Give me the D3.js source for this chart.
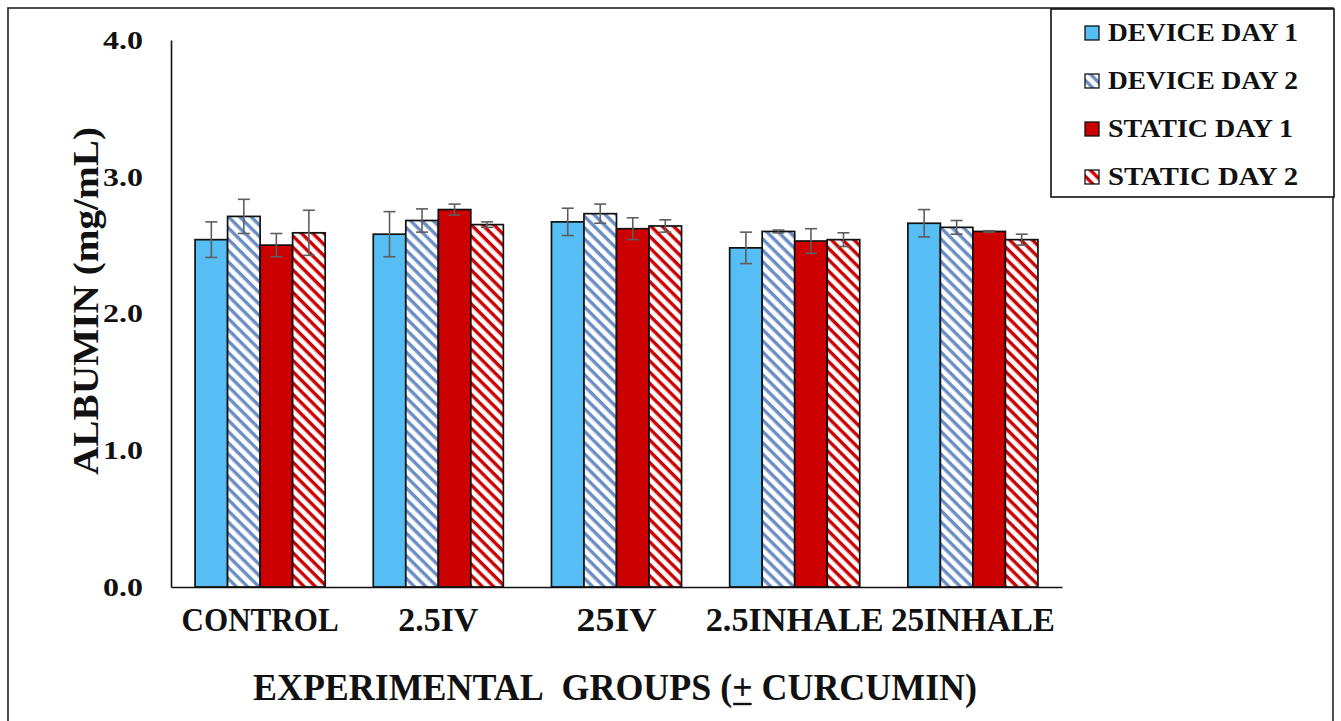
<!DOCTYPE html>
<html><head><meta charset="utf-8">
<script src="https://cdn.jsdelivr.net/npm/d3@7"></script>
<style>
html,body{margin:0;padding:0;background:#fff;}
svg{display:block;}
text{font-family:"Liberation Serif","Times New Roman",serif !important;font-weight:bold;fill:#111;}
</style></head>
<body>
<svg id="chart" width="1341" height="721"></svg>
<script>
const categories = ["CONTROL", "2.5IV", "25IV", "2.5INHALE", "25INHALE"];
const seriesNames = ["DEVICE DAY 1", "DEVICE DAY 2", "STATIC DAY 1", "STATIC DAY 2"];
const deviceDay1 = [2.54, 2.58, 2.67, 2.48, 2.66];
const deviceDay1Err = [0.13, 0.165, 0.10, 0.115, 0.10];
const deviceDay2 = [2.71, 2.68, 2.73, 2.60, 2.63];
const deviceDay2Err = [0.125, 0.085, 0.07, 0.01, 0.05];
const staticDay1 = [2.50, 2.76, 2.62, 2.53, 2.60];
const staticDay1Err = [0.085, 0.04, 0.08, 0.09, 0.005];
const staticDay2 = [2.59, 2.65, 2.64, 2.54, 2.54];
const staticDay2Err = [0.165, 0.02, 0.045, 0.05, 0.04];
const yTicks = [0, 1, 2, 3, 4];
const yTickLabels = ["0.0", "1.0", "2.0", "3.0", "4.0"];
const xTitle = "EXPERIMENTAL\u00A0 GROUPS (+ CURCUMIN)";
const yTitle = "ALBUMIN (mg/mL)";

const seriesValues = [deviceDay1, deviceDay2, staticDay1, staticDay2];
const seriesErrors = [deviceDay1Err, deviceDay2Err, staticDay1Err, staticDay2Err];

const FONT = '"Liberation Serif", "Times New Roman", serif';
const svg = d3.select("#chart");
const defs = svg.append("defs");

function stripe(id, color) {
  const p = defs.append("pattern").attr("id", id)
    .attr("patternUnits", "userSpaceOnUse")
    .attr("width", 8).attr("height", 8)
    .attr("patternTransform", "rotate(45)");
  p.append("rect").attr("width", 8).attr("height", 8).attr("fill", "#fff");
  p.append("rect").attr("width", 8).attr("height", 3.4).attr("fill", color);
}
stripe("stripeBlue", "#6a8ec3");
stripe("stripeRed", "#cc0000");
const fills = ["#56bdf5", "url(#stripeBlue)", "#cc0000", "url(#stripeRed)"];

// outer frame
svg.append("rect").attr("x", 8).attr("y", 8).attr("width", 1325).attr("height", 720)
  .attr("fill", "none").attr("stroke", "#222").attr("stroke-width", 1.6);

const x0 = d3.scaleBand().domain(categories).range([171, 1062]).paddingInner(0.27).paddingOuter(0.135);
const x1 = d3.scaleBand().domain(seriesNames).range([0, x0.bandwidth()]);
const y = d3.scaleLinear().domain([0, 4]).range([587, 40]);

// bars
const groups = svg.append("g").selectAll("g").data(categories).join("g")
  .attr("transform", d => `translate(${x0(d)},0)`);

seriesNames.forEach((s, si) => {
  groups.append("rect")
    .attr("x", x1(s))
    .attr("y", (d, i) => y(seriesValues[si][i]))
    .attr("width", x1.bandwidth())
    .attr("height", (d, i) => y(0) - y(seriesValues[si][i]))
    .attr("fill", fills[si])
    .attr("stroke", "#111").attr("stroke-width", 1.7);
});

// error bars
seriesNames.forEach((s, si) => {
  const cx = x1(s) + x1.bandwidth() / 2;
  const eg = groups.append("g").attr("stroke", "#5e5e5e").attr("stroke-width", 1.6);
  eg.append("line").attr("x1", cx).attr("x2", cx)
    .attr("y1", (d, i) => y(seriesValues[si][i] + seriesErrors[si][i]))
    .attr("y2", (d, i) => y(seriesValues[si][i] - seriesErrors[si][i]));
  eg.append("line").attr("x1", cx - 6).attr("x2", cx + 6)
    .attr("y1", (d, i) => y(seriesValues[si][i] + seriesErrors[si][i]))
    .attr("y2", (d, i) => y(seriesValues[si][i] + seriesErrors[si][i]));
  eg.append("line").attr("x1", cx - 6).attr("x2", cx + 6)
    .attr("y1", (d, i) => y(seriesValues[si][i] - seriesErrors[si][i]))
    .attr("y2", (d, i) => y(seriesValues[si][i] - seriesErrors[si][i]));
});

// axes
const yAxis = d3.axisLeft(y).tickValues(yTicks).tickSize(0).tickPadding(28)
  .tickFormat((d, i) => yTickLabels[i]);
const yg = svg.append("g").attr("transform", "translate(171,0)").call(yAxis);
yg.attr("font-family", null);
yg.select(".domain").attr("stroke", "#111").attr("stroke-width", 1.6);
yg.selectAll("text").attr("font-size", 25).attr("fill", "#111")
  .style("font-family", FONT).style("font-weight", "bold")
  .attr("textLength", 40).attr("lengthAdjust", "spacingAndGlyphs")
  .attr("dy", "0.33em");

const xAxis = d3.axisBottom(x0).tickSize(0).tickPadding(30);
const xg = svg.append("g").attr("transform", "translate(0,587)").call(xAxis);
xg.attr("font-family", null);
xg.select(".domain").attr("stroke", "#111").attr("stroke-width", 1.6);
const xWidths = [157, 80, 80, 178, 164];
xg.selectAll("text").attr("font-size", 33).attr("fill", "#111")
  .style("font-family", FONT).style("font-weight", "bold")
  .attr("textLength", (d, i) => xWidths[i]).attr("lengthAdjust", "spacingAndGlyphs")
  .attr("dy", "0.42em");

// axis titles
const xt = svg.append("text").attr("x", 615).attr("y", 700).attr("text-anchor", "middle")
  .attr("font-size", 38).attr("textLength", 724).attr("lengthAdjust", "spacingAndGlyphs")
  .style("font-family", FONT)
  .text(xTitle);
// underline beneath the "+" sign (the ± style of the original)
const plusIdx = xTitle.indexOf("+");
const ext = xt.node().getExtentOfChar(plusIdx);
svg.append("line")
  .attr("x1", ext.x + 1).attr("x2", ext.x + ext.width - 1)
  .attr("y1", 704).attr("y2", 704)
  .attr("stroke", "#111").attr("stroke-width", 2.4);

svg.append("text").attr("transform", "translate(98,301) rotate(-90)")
  .attr("text-anchor", "middle").attr("font-size", 36)
  .attr("textLength", 348).attr("lengthAdjust", "spacingAndGlyphs")
  .style("font-family", FONT)
  .text(yTitle);

// legend
svg.append("rect").attr("x", 1051).attr("y", 9).attr("width", 283).attr("height", 188)
  .attr("fill", "#fff").attr("stroke", "#111").attr("stroke-width", 1.6);
const legendWidths = [190, 190, 185, 190];
const lg = svg.append("g").selectAll("g").data(seriesNames).join("g")
  .attr("transform", (d, i) => `translate(1085,${41 + i * 48})`);
lg.append("rect").attr("x", 0).attr("y", -15).attr("width", 14).attr("height", 14)
  .attr("fill", (d, i) => fills[i]).attr("stroke", "#111").attr("stroke-width", 1.3);
lg.append("text").attr("x", 23).attr("y", 0).attr("font-size", 26)
  .attr("textLength", (d, i) => legendWidths[i]).attr("lengthAdjust", "spacingAndGlyphs")
  .style("font-family", FONT)
  .text(d => d);
</script>
</body></html>
